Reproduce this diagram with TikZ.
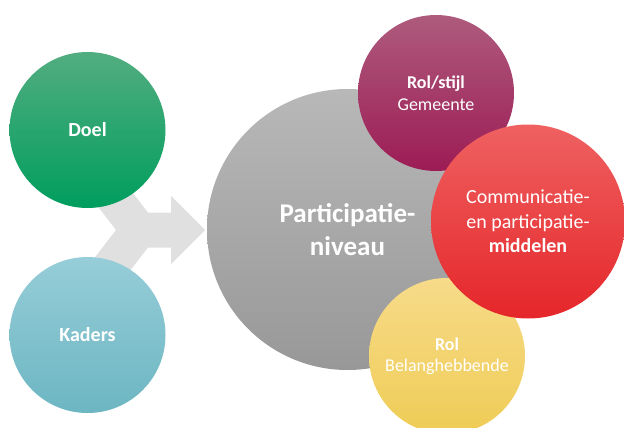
\documentclass[tikz,border=0pt]{standalone}
\usepackage{fontspec}
\setmainfont{Carlito}
\begin{document}
\begin{tikzpicture}[x=1pt,y=-1pt,
  bubble/.style={circle, inner sep=0pt, draw=none, text=white, align=center}]
\definecolor{chevgray}{HTML}{E0E0E0}
\useasboundingbox (0,0) rectangle (624,428);
% converging arrow
\fill[chevgray] (60,157.5) -- (116,230) -- (60,302.5) -- (92,320) -- (148,247.5) -- (171,247.5) -- (171,264) -- (205,230) -- (171,196) -- (171,212.5) -- (148,212.5) -- (92,140) -- cycle;
% circles
\node[bubble, minimum size=156pt, font=\fontsize{20}{24}\selectfont\bfseries, top color={rgb,255:red,82;green,173;blue,128}, middle color={rgb,255:red,6;green,162;blue,100}, bottom color={rgb,255:red,0;green,158;blue,94}] (doel) at (87.5,130) {Doel};
\node[bubble, minimum size=156pt, font=\fontsize{20}{24}\selectfont\bfseries, top color={rgb,255:red,150;green,205;blue,216}, middle color={rgb,255:red,130;green,195;blue,207}, bottom color={rgb,255:red,108;green,182;blue,194}] (kaders) at (87.5,335) {Kaders};
\node[bubble, minimum size=281pt, font=\fontsize{27}{33}\selectfont\bfseries, top color={rgb,255:red,184;green,184;blue,184}, middle color={rgb,255:red,168;green,168;blue,168}, bottom color={rgb,255:red,152;green,152;blue,152}] (niveau) at (347.5,229.5) {Participatie-\\niveau};
\node[bubble, minimum size=156pt, font=\fontsize{18}{22}\selectfont, top color={rgb,255:red,174;green,91;blue,125}, middle color={rgb,255:red,165;green,39;blue,95}, bottom color={rgb,255:red,156;green,28;blue,85}] (gemeente) at (436,93) {\textbf{Rol/stijl}\\Gemeente};
\node[bubble, minimum size=156pt, font=\fontsize{18}{21}\selectfont, top color={rgb,255:red,247;green,219;blue,138}, middle color={rgb,255:red,249;green,218;blue,110}, bottom color={rgb,255:red,239;green,204;blue,85}] (belang) at (447,356) {\textbf{Rol}\\Belanghebbende};
\node[bubble, minimum size=194pt, font=\fontsize{20}{24.5}\selectfont, top color={rgb,255:red,239;green,97;blue,97}, middle color={rgb,255:red,236;green,47;blue,52}, bottom color={rgb,255:red,229;green,38;blue,42}] (middelen) at (528,221.5) {Communicatie-\\en participatie-\\\textbf{middelen}};
\end{tikzpicture}
\end{document}
